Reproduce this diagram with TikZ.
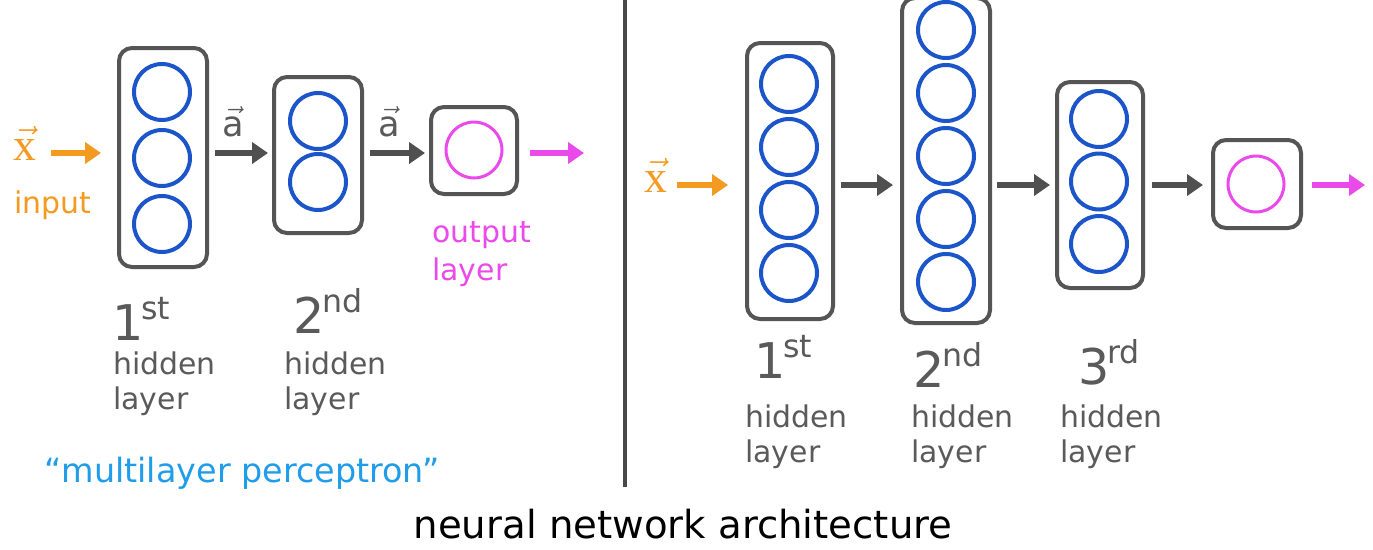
\documentclass[tikz,border=0pt]{standalone}
\usepackage{fontspec}
\setmainfont{DejaVu Sans}
\newfontfamily\vecfont{Liberation Serif}
\usetikzlibrary{arrows.meta}

\definecolor{boxgray}{HTML}{555555}
\definecolor{arrgray}{HTML}{505050}
\definecolor{txtgray}{HTML}{5A5A5A}
\definecolor{unitblue}{HTML}{1B55C9}
\definecolor{inorange}{HTML}{F39A21}
\definecolor{outmag}{HTML}{EA4AEA}
\definecolor{mlpblue}{HTML}{1F9CEA}

% ordinal with raised suffix, e.g. \ordlabel{1}{st}
\newcommand{\ordlabel}[2]{{\fontsize{28}{28}\selectfont #1\kern-0.05em\raisebox{0.42em}{\fontsize{18}{18}\selectfont #2}}}

\begin{document}
\begin{tikzpicture}[x=0.2mm, y=-0.2mm,
  layerbox/.style={draw=boxgray, line width=0.8mm, rounded corners=2.6mm, inner sep=0pt},
  unit/.style={circle, draw=unitblue, line width=0.8mm, minimum size=11.2mm, inner sep=0pt},
  outunit/.style={circle, draw=outmag, line width=0.6mm, minimum size=11.2mm, inner sep=0pt},
  flow/.style={-{Triangle[length=3.2mm, width=4.2mm]}, line width=1.3mm},
  labeltxt/.style={font=\fontsize{17}{20}\selectfont, align=left, inner sep=0pt, anchor=north west},
  vecin/.style={text=inorange, inner sep=0pt, anchor=base},
  veca/.style={midway, above=2.6mm, inner sep=0pt, text=txtgray, xshift=-1.5mm}
]
  % pixel grid: 1373 x 549, y pointing down
  \useasboundingbox[fill=white] (0,0) rectangle (1373,549);

  % --- left: one input, two hidden layers, one output ---
  \coordinate (rowL) at (0,153);
  \node[layerbox, minimum width=17.6mm, minimum height=43.8mm] (lb1) at (163,157.5) {};
  \node[layerbox, minimum width=17.6mm, minimum height=31.2mm] (lb2) at (318,155) {};
  \node[layerbox, minimum width=17.2mm, minimum height=17.4mm] (lout) at (474,150.5) {};
  \foreach \cy [count=\k] in {92,158,224}
    \node[unit] (l1u\k) at (162,\cy) {};
  \foreach \cy [count=\k] in {121,182}
    \node[unit] (l2u\k) at (318,\cy) {};
  \node[outunit] (lou) at (474,150) {};

  \node[vecin] (xL) at (25,160) {\fontsize{26}{28}\selectfont$\vec{\hbox{\vecfont\fontsize{26}{28}\selectfont x}}$};
  \node[labeltxt, text=inorange] (inL) at (14,190) {input};
  \coordinate (yL) at (584,153);

  \draw[flow, draw=inorange, shorten <=2.8mm, shorten >=3.2mm] (xL.east |- rowL) -- (lb1.west |- rowL);
  \draw[flow, draw=arrgray, shorten <=1.2mm, shorten >=0.8mm] (lb1.east |- rowL) -- (lb2.west |- rowL)
    node[veca] {\fontsize{20}{24}\selectfont$\vec{\hbox{\fontsize{20}{24}\selectfont a}}$};
  \draw[flow, draw=arrgray, shorten <=1.2mm, shorten >=0.8mm] (lb2.east |- rowL) -- (lout.west |- rowL)
    node[veca] {\fontsize{20}{24}\selectfont$\vec{\hbox{\fontsize{20}{24}\selectfont a}}$};
  \draw[flow, draw=outmag, shorten <=2.2mm] (lout.east |- rowL) -- (yL);

  \node[labeltxt, text=outmag, font=\fontsize{17}{21.5}\selectfont] (outL) at (432,221) {output\\layer};
  \node[anchor=base west, inner sep=0pt, text=txtgray] (o1L) at (112,340) {\ordlabel{1}{st}};
  \node[anchor=base west, inner sep=0pt, text=txtgray] (o2L) at (293,333) {\ordlabel{2}{nd}};
  \node[labeltxt, text=txtgray] (h1L) at (113,351) {hidden\\layer};
  \node[labeltxt, text=txtgray] (h2L) at (284,351) {hidden\\layer};

  \node[anchor=base west, inner sep=0pt, text=mlpblue, font=\fontsize{19}{22}\selectfont] (mlp) at (44,482)
    {“multilayer perceptron”};

  % --- divider ---
  \draw[line width=0.8mm, draw=boxgray!85!black] (625,0) -- (625,487);

  % --- right: one input, three hidden layers, one output ---
  \coordinate (rowR) at (0,185);
  \node[layerbox, minimum width=17.2mm, minimum height=55.2mm] (rb1) at (790,181) {};
  \node[layerbox, minimum width=17.6mm, minimum height=65mm] (rb2) at (946,160.5) {};
  \node[layerbox, minimum width=17.2mm, minimum height=41.2mm] (rb3) at (1100,185) {};
  \node[layerbox, minimum width=17.6mm, minimum height=17.6mm] (rout) at (1257,184) {};
  \foreach \cy [count=\k] in {84,147,210,273}
    \node[unit] (r1u\k) at (789,\cy) {};
  \foreach \cy [count=\k] in {30,93,156,219,282}
    \node[unit] (r2u\k) at (946,\cy) {};
  \foreach \cy [count=\k] in {119,181.5,244}
    \node[unit] (r3u\k) at (1099,\cy) {};
  \node[outunit] (rou) at (1256,184) {};

  \node[vecin] (xR) at (656,192) {\fontsize{26}{28}\selectfont$\vec{\hbox{\vecfont\fontsize{26}{28}\selectfont x}}$};
  \coordinate (yR) at (1365,185);

  \draw[flow, draw=inorange, shorten <=1.8mm, shorten >=3.4mm] (xR.east |- rowR) -- (rb1.west |- rowR);
  \draw[flow, draw=arrgray, shorten <=1.2mm, shorten >=1.4mm] (rb1.east |- rowR) -- (rb2.west |- rowR);
  \draw[flow, draw=arrgray, shorten <=1mm, shorten >=1mm] (rb2.east |- rowR) -- (rb3.west |- rowR);
  \draw[flow, draw=arrgray, shorten <=1.4mm, shorten >=1.6mm] (rb3.east |- rowR) -- (rout.west |- rowR);
  \draw[flow, draw=outmag, shorten <=1.8mm] (rout.east |- rowR) -- (yR);

  \node[anchor=base west, inner sep=0pt, text=txtgray] (o1R) at (754,378) {\ordlabel{1}{st}};
  \node[anchor=base west, inner sep=0pt, text=txtgray] (o2R) at (913,387) {\ordlabel{2}{nd}};
  \node[anchor=base west, inner sep=0pt, text=txtgray] (o3R) at (1078,384) {\ordlabel{3}{rd}};
  \node[labeltxt, text=txtgray] (h1R) at (745,404) {hidden\\layer};
  \node[labeltxt, text=txtgray] (h2R) at (911,404) {hidden\\layer};
  \node[labeltxt, text=txtgray] (h3R) at (1060,404) {hidden\\layer};

  % --- caption ---
  \node[anchor=base, inner sep=0pt, font=\fontsize{22}{26}\selectfont] (title) at (683,538)
    {neural network architecture};
\end{tikzpicture}
\end{document}
